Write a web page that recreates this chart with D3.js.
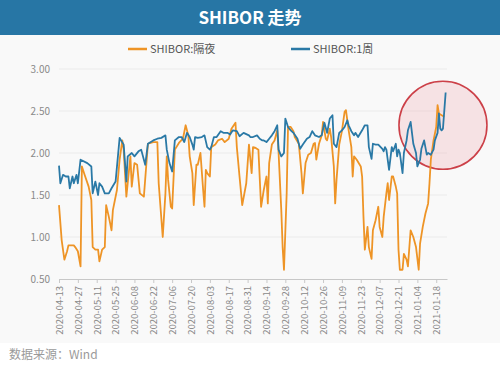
<!DOCTYPE html>
<html>
<head>
<meta charset="utf-8">
<script src="https://cdn.jsdelivr.net/npm/d3@7"></script>
<style>
  body { margin: 0; background: #fff; }
  svg { display: block; font-family: "Noto Sans CJK SC", "Noto Sans", sans-serif; }
</style>
</head>
<body>
<svg width="500" height="365"></svg>
<script>
// days counted from 2020-04-13
const startDate = Date.UTC(2020, 3, 13);
const endDay = 288;

const nightDays = [0,2,4,6,7,11,12,14,16,17,19,22,24,25,27,29,30,32,34,35,37,39,40,43,45,47,48,50,53,54,56,58,60,63,66,70,73,74,77,79,80,81,83,84,86,89,92,94,96,97,99,100,102,103,105,107,108,109,110,112,113,116,118,121,123,126,128,131,132,134,136,139,141,143,144,146,148,150,152,154,155,156,158,160,162,163,165,166,167,169,170,172,174,175,178,180,181,183,185,187,189,190,191,193,195,196,198,199,201,202,204,205,206,208,210,212,213,215,217,218,219,221,224,225,226,227,229,230,232,233,235,237,238,240,241,243,244,245,247,248,250,251,252,253,255,256,258,259,261,263,265,267,268,270,272,274,275,276,278,280,281,282,284,285,286];
const nightValues = [1.38,0.96,0.73,0.83,0.90,0.90,0.88,0.83,0.65,1.84,1.74,1.60,1.44,0.88,0.85,0.85,0.71,0.85,0.88,1.38,1.24,1.08,1.32,1.56,1.92,2.15,2.04,1.48,1.96,1.60,1.88,1.86,1.52,1.48,2.11,2.13,2.13,1.64,1.00,1.52,1.96,1.68,1.36,1.34,2.04,2.12,2.17,2.33,2.21,1.96,1.76,1.38,1.86,1.86,2.00,1.56,1.36,1.80,1.76,1.72,2.07,2.10,2.15,2.17,2.13,2.17,2.29,2.36,2.07,1.72,1.38,1.64,2.10,1.76,2.07,2.06,2.04,1.36,1.56,1.72,1.40,1.88,2.10,2.15,2.27,2.00,1.32,0.88,0.61,1.52,2.31,2.31,2.26,2.19,2.11,1.76,1.52,1.88,1.98,2.00,2.11,2.12,1.92,2.11,2.21,2.37,2.17,2.15,2.29,2.19,1.84,1.40,1.68,2.10,2.26,2.49,2.51,2.27,2.07,1.72,1.96,1.92,1.84,1.72,1.24,0.85,1.12,0.88,0.74,1.08,1.20,1.36,1.12,1.00,1.24,1.52,1.64,1.44,1.72,1.72,1.60,1.52,0.85,0.61,0.61,0.80,0.73,0.65,1.08,1.00,0.88,0.61,0.92,1.12,1.28,1.40,1.64,1.92,2.15,2.31,2.57,2.47,2.45,2.44,2.44];

const weekDays = [0,1,3,5,7,8,10,11,13,14,16,21,24,25,27,29,30,32,34,37,39,42,45,48,50,51,54,56,59,61,64,66,70,73,76,79,80,82,84,86,89,91,93,95,97,99,100,101,103,106,108,110,112,113,115,117,120,122,125,127,129,132,134,137,141,142,144,147,149,151,152,154,156,158,160,162,163,165,167,168,170,172,174,177,179,181,184,186,188,190,193,195,197,199,201,203,204,206,208,210,212,214,215,217,219,220,222,225,227,229,230,232,233,235,237,240,241,242,243,245,247,248,250,251,252,253,255,256,258,259,261,263,265,266,268,269,271,273,274,276,278,279,281,282,283,284,285,287];
const weekValues = [1.85,1.64,1.74,1.72,1.72,1.58,1.72,1.64,1.74,1.64,1.92,1.88,1.84,1.52,1.66,1.50,1.64,1.60,1.52,1.52,1.58,1.66,2.18,2.10,1.66,1.96,2.00,1.96,2.02,2.04,1.86,2.11,2.15,2.17,2.18,2.21,2.04,1.88,1.78,2.15,2.19,2.19,2.13,2.24,2.19,2.10,2.04,2.19,2.18,2.19,2.21,2.07,2.04,2.07,2.19,2.19,2.26,2.24,2.24,2.22,2.27,2.26,2.20,2.24,2.21,2.19,2.19,2.21,2.17,2.15,2.15,2.13,2.17,2.21,2.26,2.33,2.04,1.96,2.00,2.41,2.31,2.27,2.24,2.17,2.05,2.10,2.17,2.19,2.26,2.21,2.19,2.21,2.36,2.24,2.41,2.45,2.11,2.07,2.24,2.27,2.31,2.39,2.33,2.26,2.21,2.24,2.19,2.27,2.33,2.33,2.07,1.93,2.11,2.10,2.10,2.05,2.02,2.07,2.04,1.80,2.07,2.02,2.11,1.96,2.04,2.00,1.76,2.00,2.15,2.27,2.37,2.11,2.00,1.84,1.92,2.05,2.15,1.98,2.00,1.98,2.04,2.15,2.24,2.47,2.29,2.27,2.29,2.72];

const tickLabels = ['2020-04-13','2020-04-27','2020-05-11','2020-05-25','2020-06-08','2020-06-22','2020-07-06','2020-07-20','2020-08-03','2020-08-17','2020-08-31','2020-09-14','2020-09-28','2020-10-12','2020-10-26','2020-11-09','2020-11-23','2020-12-07','2020-12-21','2021-01-04','2021-01-18'];
const yTicks = [0.5, 1.0, 1.5, 2.0, 2.5, 3.0];

const seriesNames = ['SHIBOR:隔夜', 'SHIBOR:1周'];
const colors = ['#ee9426', '#2a79a6'];

const svg = d3.select('svg');
const width = +svg.attr('width'),
    height = +svg.attr('height');
const margin = {top: 69, right: 53, bottom: 86, left: 59};

const day = (n) => new Date(startDate + n * 86400000);
const parse = d3.utcParse('%Y-%m-%d');

let x = d3.scaleUtc().domain([day(0), day(endDay)]).range([margin.left, width - margin.right]);
let y = d3.scaleLinear().domain([0.5, 3.0]).range([height - margin.bottom, margin.top]);

// backgrounds
svg.append('rect').attr('x', 0).attr('y', 0).attr('width', width).attr('height', 343).attr('fill', '#f9f9f9');
svg.append('rect').attr('x', 0).attr('y', 0).attr('width', width).attr('height', 35).attr('fill', '#2776a5');
svg.append('text')
    .attr('x', width / 2).attr('y', 24)
    .attr('text-anchor', 'middle')
    .attr('fill', '#fff')
    .attr('font-size', 17)
    .attr('font-weight', 'bold')
    .text('SHIBOR 走势');

// grid
svg.append('g')
  .selectAll('line')
  .data(yTicks.slice(1))
  .enter().append('line')
    .attr('x1', margin.left).attr('x2', width - margin.right)
    .attr('y1', (d) => y(d)).attr('y2', (d) => y(d))
    .attr('stroke', '#ebebeb');

// y labels
svg.append('g')
  .selectAll('text')
  .data(yTicks)
  .enter().append('text')
    .attr('x', margin.left - 9)
    .attr('y', (d) => y(d) + 3.5)
    .attr('text-anchor', 'end')
    .attr('font-size', 10)
    .attr('fill', '#8a8a8a')
    .text((d) => d.toFixed(2));

// x axis
let xAxis = svg.append('g')
    .attr('transform', `translate(0, ${y(0.5)})`)
    .call(d3.axisBottom(x)
      .tickValues(tickLabels.map(parse))
      .tickSize(4)
      .tickSizeOuter(0)
      .tickFormat(d3.utcFormat('%Y-%m-%d')));
xAxis.select('.domain').attr('stroke', '#c8c8c8');
xAxis.selectAll('.tick line').attr('stroke', '#c8c8c8');
xAxis.selectAll('.tick text')
    .attr('font-family', '"Noto Sans CJK SC", "Noto Sans", sans-serif')
    .attr('font-size', 9.5)
    .attr('fill', '#8a8a8a')
    .attr('transform', 'rotate(-90)')
    .attr('text-anchor', 'end')
    .attr('x', -7)
    .attr('y', 0)
    .attr('dy', '0.35em');

// highlight circle
svg.append('circle')
    .attr('cx', x(day(285))).attr('cy', y(2.33))
    .attr('r', 44)
    .attr('fill', 'rgba(240,170,175,0.28)')
    .attr('stroke', '#cc4048')
    .attr('stroke-width', 1.6);

const line = d3.line()
    .x((d) => x(day(d[0])))
    .y((d) => y(d[1]));

svg.append('path')
    .datum(d3.zip(nightDays, nightValues))
    .attr('d', line)
    .attr('fill', 'none')
    .attr('stroke', colors[0])
    .attr('stroke-width', 1.8)
    .attr('stroke-linejoin', 'round');

svg.append('path')
    .datum(d3.zip(weekDays, weekValues))
    .attr('d', line)
    .attr('fill', 'none')
    .attr('stroke', colors[1])
    .attr('stroke-width', 1.8)
    .attr('stroke-linejoin', 'round');

// legend
const legendX = [128, 291];
let legend = svg.append('g')
  .selectAll('g')
  .data(seriesNames)
  .enter().append('g')
    .attr('transform', (d, i) => `translate(${legendX[i]}, 49)`);
legend.append('line')
    .attr('x1', 0).attr('x2', 19)
    .attr('stroke', (d, i) => colors[i])
    .attr('stroke-width', 2.5);
legend.append('text')
    .attr('x', 22).attr('y', 4)
    .attr('font-size', 11)
    .attr('fill', '#555')
    .text((d) => d);

// source
svg.append('text')
    .attr('x', 9).attr('y', 359)
    .attr('font-size', 12)
    .attr('fill', '#9a9a9a')
    .text('数据来源：Wind');
</script>
</body>
</html>
